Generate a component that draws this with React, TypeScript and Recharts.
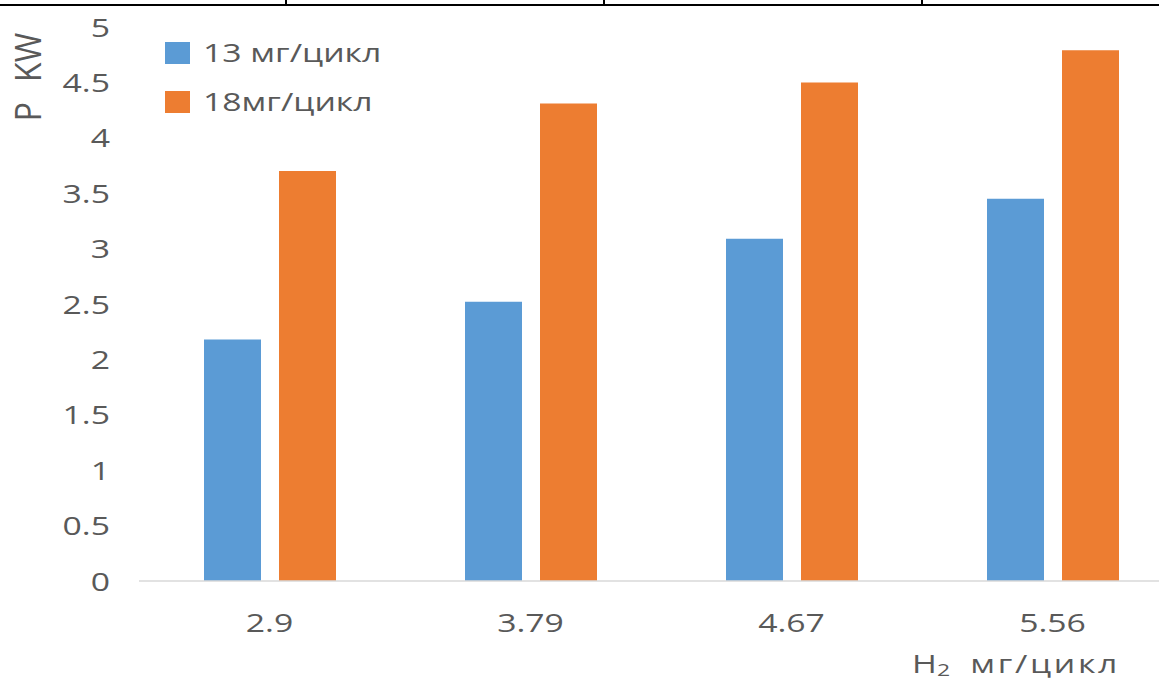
import React from 'react';
import { BarChart, Bar, XAxis, YAxis, Legend } from 'recharts';

// H2 dose per cycle (x categories)
const categories = ['2.9', '3.79', '4.67', '5.56'];
// Power, kW, for the two fuel doses
const series13 = [2.18, 2.52, 3.09, 3.45];
const series18 = [3.7, 4.31, 4.5, 4.79];
const yTicks = [0, 0.5, 1, 1.5, 2, 2.5, 3, 3.5, 4, 4.5, 5];
const seriesNames = ['13 мг/цикл', '18мг/цикл'];
const seriesColors = ['#5B9BD5', '#ED7D31'];

const data = categories.map((h2, i) => ({ h2, a: series13[i], b: series18[i] }));

const FONT = '"Open Sans", sans-serif';
const TEXT = '#595959';
const STRETCH = 1.35;

const YTick = (props: any) => {
  const { x, y, payload } = props;
  return (
    <text
      transform={`translate(${x},${y}) scale(${STRETCH},1)`}
      textAnchor="end"
      dominantBaseline="central"
      fontSize={25}
      fill={TEXT}
      fontFamily={FONT}
    >
      {String(payload.value)}
    </text>
  );
};

const XTick = (props: any) => {
  const { x, y, payload } = props;
  return (
    <text
      transform={`translate(${x},${y + 41}) scale(${STRETCH},1)`}
      textAnchor="middle"
      dominantBaseline="central"
      fontSize={25}
      fill={TEXT}
      fontFamily={FONT}
    >
      {payload.value}
    </text>
  );
};

const YTitle = (props: any) => {
  const vb = props.viewBox || { x: 0, y: 27 };
  const cx = vb.x + 26;
  const cy = vb.y + 50;
  return (
    <text
      transform={`translate(${cx},${cy}) scale(1.15,1) rotate(-90)`}
      textAnchor="middle"
      dominantBaseline="central"
      fontSize={32}
      fill={TEXT}
      fontFamily={FONT}
    >
      <tspan>P</tspan>
      <tspan dx={20}>KW</tspan>
    </text>
  );
};

const XTitle = (props: any) => {
  const vb = props.viewBox || { x: 139, y: 581 };
  const sx = vb.x + 773;
  const sy = vb.y + 82;
  return (
    <text
      transform={`translate(${sx},${sy}) scale(${STRETCH},1)`}
      textAnchor="start"
      dominantBaseline="central"
      fontSize={25}
      fill={TEXT}
      fontFamily={FONT}
    >
      <tspan>H</tspan>
      <tspan fontSize={17} dy={6}>2</tspan>
      <tspan dx={15} dy={-6} letterSpacing={2}>мг/цикл</tspan>
    </text>
  );
};

const LegendContent = () => (
  <div style={{ fontFamily: FONT }}>
    {seriesNames.map((n, i) => (
      <div key={n} style={{ display: 'flex', alignItems: 'center', height: 49 }}>
        <div style={{ width: 25, height: 22, background: seriesColors[i] }} />
        <span
          style={{
            marginLeft: 13,
            fontSize: 25,
            color: TEXT,
            display: 'inline-block',
            transform: `scaleX(${STRETCH})`,
            transformOrigin: 'left center',
            whiteSpace: 'nowrap',
            lineHeight: 1,
          }}
        >
          {n}
        </span>
      </div>
    ))}
  </div>
);

export default function App() {
  return (
    <div
      style={{
        position: 'absolute',
        left: 0,
        top: 0,
        width: 1159,
        height: 680,
        overflow: 'hidden',
        background: '#ffffff',
      }}
    >
      {/* table border running along the top edge */}
      <div style={{ position: 'absolute', left: 0, top: 4, width: 1159, height: 2, background: '#000' }} />
      {[285, 603, 921].map((left) => (
        <div key={left} style={{ position: 'absolute', left, top: 0, width: 2, height: 6, background: '#000' }} />
      ))}
      <BarChart
        width={1183}
        height={680}
        data={data}
        margin={{ top: 27, right: 0, bottom: 0, left: 0 }}
        barSize={57}
        barGap={18}
      >
        <XAxis
          dataKey="h2"
          height={99}
          tickSize={0}
          tickMargin={0}
          tickLine={false}
          axisLine={{ stroke: '#d9d9d9', strokeWidth: 1.5 }}
          tick={<XTick />}
          label={<XTitle />}
          interval={0}
        />
        <YAxis
          width={139}
          domain={[0, 5]}
          ticks={yTicks}
          tickSize={0}
          tickMargin={29}
          tickLine={false}
          axisLine={false}
          tick={<YTick />}
          label={<YTitle />}
          interval={0}
        />
        <Legend
          layout="vertical"
          align="center"
          verticalAlign="middle"
          content={<LegendContent />}
          wrapperStyle={{ left: 165, top: 28, width: 'auto', height: 'auto' }}
        />
        <Bar dataKey="a" name={seriesNames[0]} fill={seriesColors[0]} isAnimationActive={false} />
        <Bar dataKey="b" name={seriesNames[1]} fill={seriesColors[1]} isAnimationActive={false} />
      </BarChart>
    </div>
  );
}
